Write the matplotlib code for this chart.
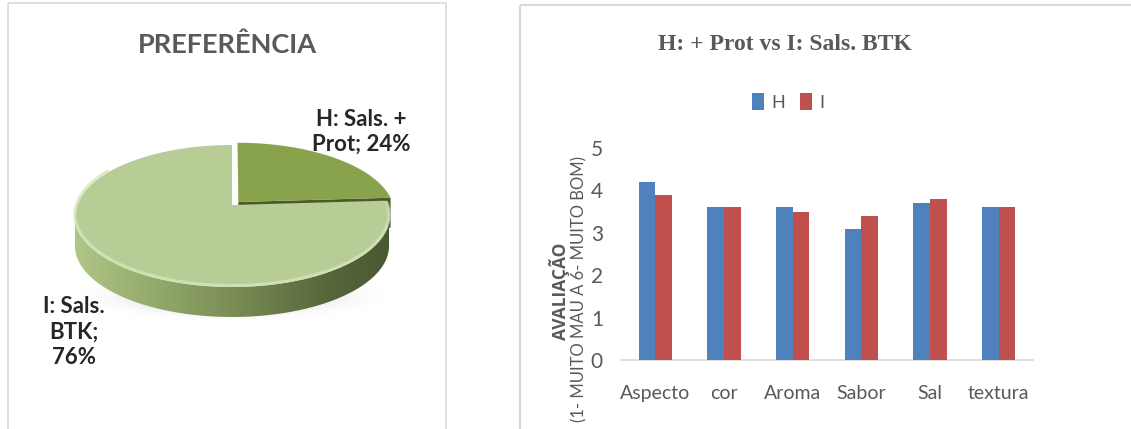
import numpy as np
import matplotlib
matplotlib.use("Agg")
import matplotlib.pyplot as plt
from matplotlib.patches import Polygon, Rectangle

# ---- data ----
pie_labels = ["H: Sals. +\nProt; 24%", "I: Sals.\nBTK;\n76%"]
pie_values = [24, 76]

categories = ["Aspecto", "cor", "Aroma", "Sabor", "Sal", "textura"]
h_scores = [4.2, 3.6, 3.6, 3.1, 3.7, 3.6]
i_scores = [3.9, 3.6, 3.5, 3.4, 3.8, 3.6]
series_names = ["H", "I"]

W, H = 1131, 429
fig = plt.figure(figsize=(W / 100, H / 100), dpi=100)
fig.patch.set_facecolor("white")

# overlay axes in pixel coordinates (y downwards) for panels and the 3D pie
ov = fig.add_axes([0, 0, 1, 1])
ov.set_xlim(0, W)
ov.set_ylim(H, 0)
ov.axis("off")

border = "#D9D9D9"
ov.add_patch(Rectangle((8, 3), 438, 440, fill=False, ec=border, lw=1.2))
ov.add_patch(Rectangle((520, 5), 640, 440, fill=False, ec=border, lw=1.6))

# ---- 3D pie ----
cx, cy, rx, ry = 232, 216, 157, 71
tilt = 0.155      # perspective shift of the disc centre
thick = 30
explode = 0.06


def proj(u, v):
    d = 1 + tilt * v
    X = u * np.sqrt(1 - tilt ** 2) / d
    Y = (v + tilt) / d
    return cx + rx * X, cy - ry * Y


def gradient_fill(poly_xy, stops, zorder):
    poly = Polygon(poly_xy, closed=True, fc="none", ec="none")
    ov.add_patch(poly)
    xs = np.linspace(60, 410, 400)
    pos = [s[0] for s in stops]
    cols = np.array([s[1] for s in stops]) / 255.0
    img = np.stack([np.interp(xs, pos, cols[:, k]) for k in range(3)], axis=-1)
    img = img[None, :, :]
    im = ov.imshow(img, extent=(60, 410, 340, 150), aspect="auto",
                   zorder=zorder, interpolation="bilinear")
    im.set_clip_path(poly)


# soft shadow under the pie
gx, gy = np.meshgrid(np.linspace(-1.4, 1.4, 200), np.linspace(-1.6, 1.6, 100))
blob = np.exp(-((gx ** 2 + gy ** 2) ** 2) * 1.8)
shadow = np.zeros((100, 200, 4))
shadow[..., :3] = 0.55
shadow[..., 3] = blob * 0.28
ov.imshow(shadow, extent=(232 - 175, 232 + 175, 330, 262), aspect="auto",
          zorder=1, interpolation="bilinear")

total = float(sum(pie_values))
h_span = 360.0 * pie_values[0] / total
mid = np.radians(h_span / 2)
off_u, off_v = explode * np.sin(mid), explode * np.cos(mid)

# H slice: radial cut face, then top
th = np.radians(h_span)
c0 = proj(off_u, off_v)
r0 = proj(off_u + np.sin(th), off_v + np.cos(th))
ov.add_patch(Polygon([c0, r0, (r0[0], r0[1] + thick), (c0[0], c0[1] + thick)],
                     closed=True, fc="#4A5A2A", ec="none", zorder=2))
t = np.radians(np.linspace(0, h_span, 80))
hx, hy = proj(off_u + np.sin(t), off_v + np.cos(t))
ov.add_patch(Polygon(np.vstack([[c0], np.column_stack([hx, hy])]), closed=True,
                     fc="#88A34C", ec="none", zorder=3))

# I slice: side band then top face
vis0 = np.degrees(np.arccos(-tilt))
t = np.radians(np.linspace(vis0, 360 - vis0, 160))
sx, sy = proj(np.sin(t), np.cos(t))
band = np.vstack([np.column_stack([sx, sy]), np.column_stack([sx[::-1], sy[::-1] + thick])])
gradient_fill(band, [(60, (182, 204, 140)), (120, (160, 182, 118)),
                     (230, (122, 142, 86)), (330, (86, 102, 58)), (410, (70, 84, 46))], 4)

t = np.radians(np.linspace(h_span, 360, 240))
ix, iy = proj(np.sin(t), np.cos(t))
ci = proj(0, 0)
ov.add_patch(Polygon(np.vstack([[ci], np.column_stack([ix, iy])]), closed=True,
                     fc="#B8CC95", ec="none", zorder=5))
# light bevel along the front rim
t = np.radians(np.linspace(vis0 - 10, 300, 120))
bx, by = proj(np.sin(t), np.cos(t))
ov.plot(bx, by - 1.5, color="#D6E6BC", lw=2.2, alpha=0.8, zorder=6,
        solid_capstyle="round")

# pie texts
ov.text(227, 45, "PREFERÊNCIA", ha="center", va="center", fontsize=19.5,
        fontweight="bold", color="#595959", family="Lato")
ov.text(361, 132, pie_labels[0], ha="center", va="center", fontsize=16,
        fontweight="bold", color="#262626", family="Lato", linespacing=1.2, zorder=8)
ov.text(74, 332, pie_labels[1], ha="center", va="center", fontsize=16,
        fontweight="bold", color="#262626", family="Lato", linespacing=1.28, zorder=8)

# ---- bar chart ----
ax = fig.add_axes([621 / W, (H - 360) / H, 412 / W, 212 / H])
x = np.arange(len(categories))
w = 0.243
bh = ax.bar(x - w / 2, h_scores, w, color="#4F81BD", label=series_names[0], zorder=3)
bi = ax.bar(x + w / 2, i_scores, w, color="#C0504D", label=series_names[1], zorder=3)
ax.set_xlim(-0.5, len(categories) - 0.5)
ax.set_ylim(0, 5)
ax.set_yticks(range(0, 6))
ax.set_xticks(x)
ax.set_xticklabels(categories)
for s in ["top", "right", "left"]:
    ax.spines[s].set_visible(False)
ax.spines["bottom"].set_color("#D9D9D9")
ax.spines["bottom"].set_linewidth(1.2)
ax.tick_params(length=0, labelcolor="#595959")
ax.tick_params(axis="y", pad=13, labelsize=15)
ax.tick_params(axis="x", pad=18, labelsize=14)
for lab in ax.get_xticklabels() + ax.get_yticklabels():
    lab.set_family("Lato")
ax.patch.set_alpha(0)

fig.text(785 / W, 1 - 45 / H, "H: + Prot vs I: Sals. BTK", ha="center", va="center",
         fontsize=17, fontweight="bold", color="#595959", family="Liberation Serif")
fig.text(559 / W, 1 - 291 / H, "AVALIAÇÃO", rotation=90, ha="center", va="center",
         fontsize=12.5, fontweight="bold", color="#595959", family="Open Sans")
fig.text(579 / W, 1 - 289 / H, "(1- MUITO MAU A 6- MUITO BOM)", rotation=90,
         ha="center", va="center", fontsize=12, color="#595959", family="Lato")

ax.legend(handles=[bh, bi], loc="center", bbox_to_anchor=(788 / W, 1 - 102 / H),
          bbox_transform=fig.transFigure, ncol=2, frameon=False, handlelength=0.7,
          handleheight=1.0, handletextpad=0.4, columnspacing=0.8,
          prop={"family": "Lato", "size": 13}, labelcolor="#595959")

fig.savefig("out.png", dpi=100, facecolor="white")
